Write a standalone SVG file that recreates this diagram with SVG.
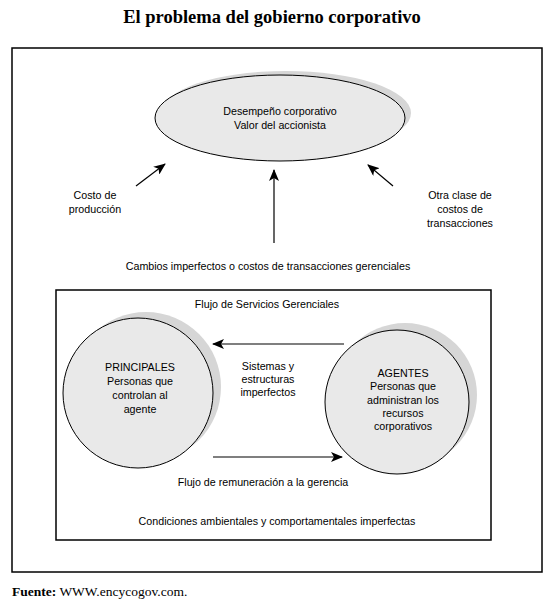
<svg xmlns="http://www.w3.org/2000/svg" width="556" height="608" viewBox="0 0 556 608">
<defs>
<style>
.t{font-family:"Liberation Sans",Arial,sans-serif;font-size:10.7px;fill:#000;text-anchor:middle}
.box{fill:none;stroke:#000;stroke-width:1.5}
.sh{fill:#d6d6d6;stroke:none}
.nd{fill:#e9e9e9;stroke:#000;stroke-width:1}
.ln{stroke:#000;stroke-width:1.2;fill:none}
</style>
<marker id="ah" viewBox="0 0 12 10" refX="11" refY="5" markerWidth="12" markerHeight="10" markerUnits="userSpaceOnUse" orient="auto">
<path d="M0,0 L12,5 L0,10 L3,5 Z" fill="#000"/>
</marker>
</defs>
<rect width="556" height="608" fill="#fff"/>
<text x="272" y="23" text-anchor="middle" font-family="Liberation Serif,'Times New Roman',serif" font-weight="bold" font-size="18.5">El problema del gobierno corporativo</text>
<rect class="box" x="12" y="48" width="530" height="524"/>
<rect class="box" x="56" y="290" width="435" height="250"/>
<g id="desempeno">
<ellipse class="sh" cx="286" cy="113" rx="125" ry="42"/>
<ellipse class="nd" cx="280" cy="118" rx="125" ry="43"/>
<text class="t" x="280" y="115">Desempeño corporativo</text>
<text class="t" x="280" y="129">Valor del accionista</text>
</g>
<g id="principales">
<circle class="sh" cx="146" cy="387" r="75"/>
<circle class="nd" cx="138" cy="393" r="75"/>
<text class="t" x="140" y="371">PRINCIPALES</text>
<text class="t" x="140" y="385">Personas que</text>
<text class="t" x="140" y="399">controlan al</text>
<text class="t" x="140" y="413">agente</text>
</g>
<g id="agentes">
<circle class="sh" cx="405" cy="395" r="72"/>
<circle class="nd" cx="397" cy="402" r="72"/>
<text class="t" x="403" y="377">AGENTES</text>
<text class="t" x="403" y="390">Personas que</text>
<text class="t" x="403" y="404">administran los</text>
<text class="t" x="403" y="417">recursos</text>
<text class="t" x="403" y="430">corporativos</text>
</g>
<g id="connectors">
<line class="ln" x1="136" y1="186" x2="165" y2="164" marker-end="url(#ah)"/>
<line class="ln" x1="274" y1="243" x2="274" y2="170" marker-end="url(#ah)"/>
<line class="ln" x1="393" y1="186" x2="368" y2="165" marker-end="url(#ah)"/>
<line class="ln" x1="344" y1="344" x2="213" y2="344" marker-end="url(#ah)"/>
<line class="ln" x1="213" y1="457" x2="342" y2="457" marker-end="url(#ah)"/>
</g>
<g id="labels">
<text class="t" x="95" y="199">Costo de</text>
<text class="t" x="95" y="213">producción</text>
<text class="t" x="460" y="199">Otra clase de</text>
<text class="t" x="460" y="213">costos de</text>
<text class="t" x="460" y="227">transacciones</text>
<text class="t" x="268" y="270">Cambios imperfectos o costos de transacciones gerenciales</text>
<text class="t" x="267" y="308">Flujo de Servicios Gerenciales</text>
<text class="t" x="268" y="370">Sistemas y</text>
<text class="t" x="268" y="383">estructuras</text>
<text class="t" x="268" y="396">imperfectos</text>
<text class="t" x="263" y="486">Flujo de remuneración a la gerencia</text>
<text class="t" x="277" y="525">Condiciones ambientales y comportamentales imperfectas</text>
</g>
<text x="12" y="596" font-family="Liberation Serif,'Times New Roman',serif" font-size="13.5"><tspan font-weight="bold">Fuente:</tspan> WWW.encycogov.com.</text>
</svg>
